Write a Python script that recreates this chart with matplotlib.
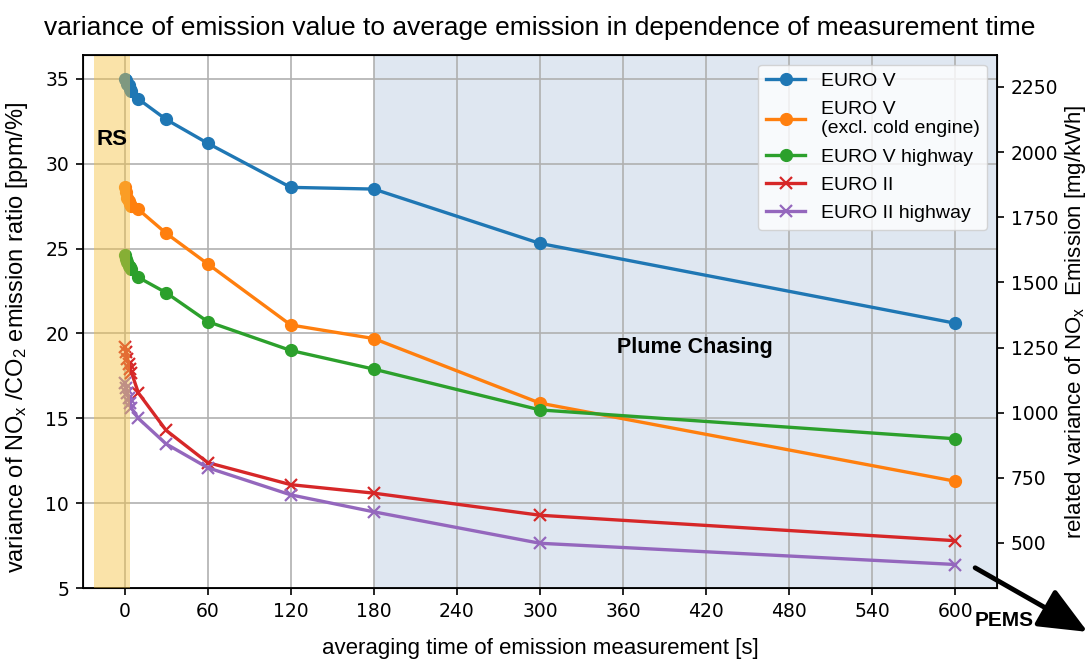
import numpy as np
import matplotlib
matplotlib.use('Agg')
import matplotlib.pyplot as plt

plt.rcParams['mathtext.fontset'] = 'custom'
plt.rcParams['mathtext.rm'] = 'Liberation Sans'
plt.rcParams['mathtext.it'] = 'Liberation Sans:italic'

# averaging times [s]
t = [0, 1, 2, 3, 4, 5, 10, 30, 60, 120, 180, 300, 600]

euro5 = [35.0, 34.9, 34.7, 34.6, 34.4, 34.3, 33.8, 32.6, 31.2, 28.6, 28.5, 25.3, 20.6]
euro5_warm = [28.6, 28.3, 28.0, 27.8, 27.6, 27.5, 27.3, 25.9, 24.1, 20.5, 19.7, 15.9, 11.3]
euro5_hw = [24.6, 24.4, 24.2, 24.0, 23.9, 23.8, 23.3, 22.4, 20.7, 19.0, 17.9, 15.5, 13.8]
euro2 = [19.2, 18.9, 18.5, 18.2, 17.9, 17.7, 16.5, 14.3, 12.4, 11.1, 10.6, 9.3, 7.8]
euro2_hw = [17.1, 16.8, 16.5, 16.2, 15.9, 15.6, 15.0, 13.5, 12.1, 10.5, 9.5, 7.65, 6.4]

xticks = [0, 60, 120, 180, 240, 300, 360, 420, 480, 540, 600]
right_ticks = [500, 750, 1000, 1250, 1500, 1750, 2000, 2250]
scale = 65.2  # right axis units per left axis unit

lab_font = 'Liberation Sans'

fig = plt.figure(figsize=(10.92, 6.61), dpi=100)
ax = fig.add_axes([0.076, 0.110, 0.837, 0.807])

ax.axvspan(180, 630, color='lightsteelblue', alpha=0.4, lw=0, zorder=0.5)
ax.axvspan(-22, 4, color='#f5c242', alpha=0.45, lw=0, zorder=5)

ax.plot(t, euro5, '-o', color='C0', lw=2.4, ms=8.5, label='EURO V', zorder=3)
ax.plot(t, euro5_warm, '-o', color='C1', lw=2.4, ms=8.5, label='EURO V\n(excl. cold engine)', zorder=3)
ax.plot(t, euro5_hw, '-o', color='C2', lw=2.4, ms=8.5, label='EURO V highway', zorder=3)
ax.plot(t, euro2, '-x', color='C3', lw=2.4, ms=9, mew=1.6, label='EURO II', zorder=3)
ax.plot(t, euro2_hw, '-x', color='C4', lw=2.4, ms=9, mew=1.6, label='EURO II highway', zorder=3)

ax.set_xlim(-30, 630)
ax.set_ylim(5, 36.4)
ax.set_xticks(xticks)
ax.set_yticks(range(5, 36, 5))
ax.grid(True, color='#b0b0b0', lw=1.2)
ax.tick_params(labelsize=13.5, length=5, width=1.2, pad=5)
for s in ax.spines.values():
    s.set_linewidth(1.3)

ax.set_xlabel('averaging time of emission measurement [s]', fontsize=16, family=lab_font, labelpad=12)
ax.set_ylabel(r'variance of NO$_\mathrm{x}$ /CO$_\mathrm{2}$ emission ratio [ppm/%]', fontsize=17,
              family=lab_font, labelpad=6)
ax.yaxis.set_label_coords(-0.058, 0.47)
ax.set_title('variance of emission value to average emission in dependence of measurement time',
             fontsize=19, family=lab_font, pad=14)

ax2 = ax.twinx()
ax2.set_ylim(5 * scale, 36.4 * scale)
ax2.set_yticks(right_ticks)
ax2.tick_params(labelsize=13.5, length=5, width=1.2, pad=5)
ax2.set_ylabel(r'related variance of NO$_\mathrm{x}$  Emission [mg/kWh]', fontsize=16, family=lab_font,
               labelpad=3)

leg = ax.legend(loc='upper right', prop={'family': lab_font, 'size': 14}, framealpha=0.8,
                borderaxespad=0.5, handlelength=2.0, labelspacing=0.55)
leg.set_zorder(10)

ax.text(-9, 31.4, 'RS', fontsize=16, fontweight='bold', family=lab_font, ha='center', va='center', zorder=6)
ax.text(412, 19.15, 'Plume Chasing', fontsize=15.5, fontweight='bold', family=lab_font,
        ha='center', va='center', zorder=6)
fig.text(0.92, 0.062, 'PEMS', fontsize=15, fontweight='bold', family=lab_font, ha='center', va='center')

ax.annotate('', xy=(0.996, 0.044), xycoords='figure fraction',
            xytext=(0.893, 0.141), textcoords='figure fraction',
            arrowprops=dict(arrowstyle='-|>,head_length=1.5,head_width=0.65', lw=3.5,
                            color='black', mutation_scale=20, shrinkA=0, shrinkB=0),
            annotation_clip=False)

fig.savefig('out.png', dpi=100)
